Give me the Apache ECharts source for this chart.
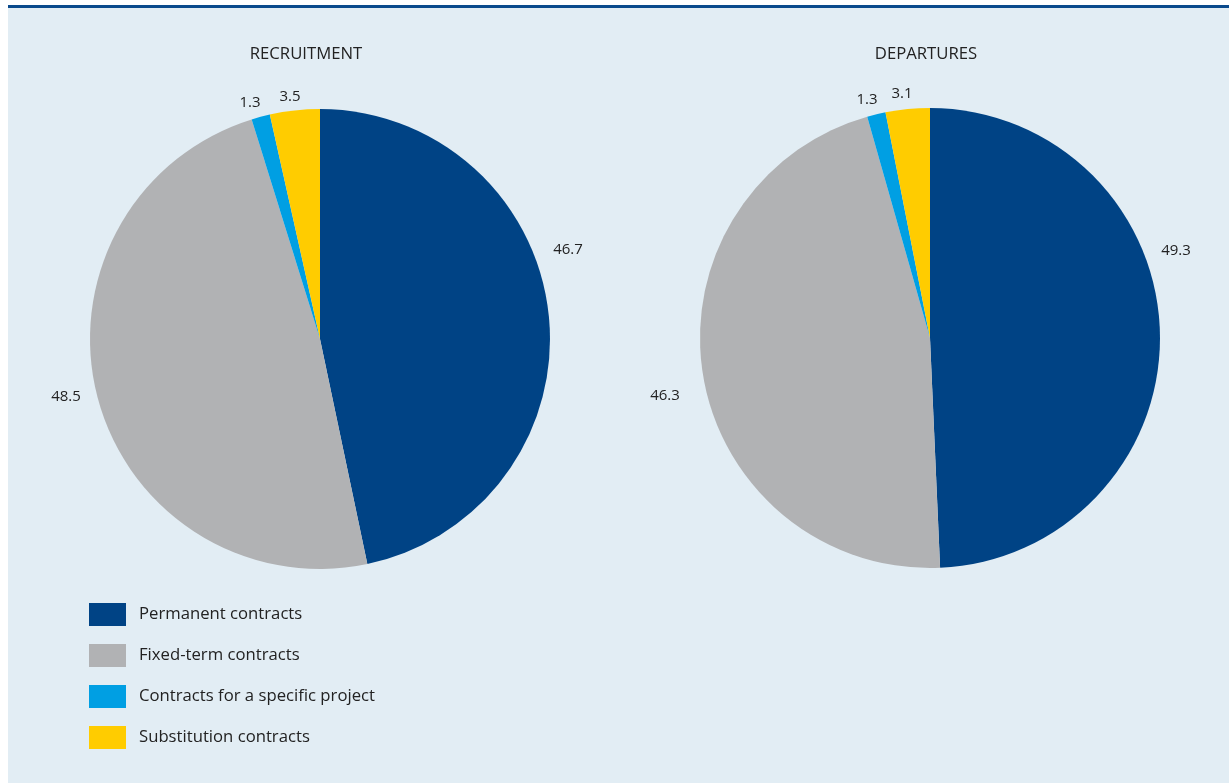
<!DOCTYPE html>
<html>
<head>
<meta charset="utf-8">
<script src="https://cdn.jsdelivr.net/npm/echarts@6/dist/echarts.min.js"></script>
<style>
  html, body { margin: 0; padding: 0; background: #ffffff; }
  #panel {
    position: absolute; left: 8px; top: 5px; right: 0; bottom: 0;
    background: #e2edf4; border-top: 3px solid #0a4a8c;
  }
  #chart { position: absolute; left: 0; top: 0; width: 1229px; height: 783px; }
</style>
</head>
<body>
<div id="panel"></div>
<div id="chart"></div>
<script>
// Contract types (share of total, %)
const categories = [
  'Permanent contracts',
  'Fixed-term contracts',
  'Contracts for a specific project',
  'Substitution contracts'
];
const recruitment = [46.7, 48.5, 1.3, 3.5];
const departures = [49.3, 46.3, 1.3, 3.1];
const panelTitles = ['RECRUITMENT', 'DEPARTURES'];

const colors = ['#004385', '#b1b2b4', '#009fe3', '#ffcc00'];
const FONT = 'Open Sans';

// Pie geometry (pixels) and label offsets from each pie centre
const pies = [
  { center: [320, 339], labelOffsets: [[248, -89], [-254, 58], [-70, -236], [-30, -242]] },
  { center: [930, 338], labelOffsets: [[246, -87], [-265, 58], [-63, -238], [-28, -244]] }
];
const radius = 230;

function pieSeries(values, idx) {
  const p = pies[idx];
  return {
    type: 'pie',
    center: p.center,
    radius: radius,
    startAngle: 90,
    clockwise: true,
    animation: false,
    silent: true,
    itemStyle: { borderWidth: 0 },
    label: {
      show: true,
      position: 'outside',
      overflow: 'none',
      formatter: (d) => d.value.toFixed(1),
      fontFamily: FONT,
      fontSize: 15,
      color: '#222222'
    },
    labelLine: { show: false },
    labelLayout: (params) => {
      const off = p.labelOffsets[params.dataIndex];
      return {
        x: p.center[0] + off[0],
        y: p.center[1] + off[1],
        align: 'center',
        verticalAlign: 'middle'
      };
    },
    data: categories.map((name, i) => ({ name: name, value: values[i] }))
  };
}

const titleStyle = { fontFamily: FONT, fontSize: 16.7, fontWeight: 'normal', color: '#222222' };

const chart = echarts.init(document.getElementById('chart'), null, { renderer: 'canvas' });
chart.setOption({
  backgroundColor: 'transparent',
  color: colors,
  title: [
    { text: panelTitles[0], left: 306, top: 46, textAlign: 'center', padding: 0, textStyle: titleStyle },
    { text: panelTitles[1], left: 926, top: 46, textAlign: 'center', padding: 0, textStyle: titleStyle }
  ],
  legend: {
    orient: 'vertical',
    left: 89,
    top: 603,
    padding: 0,
    itemWidth: 37,
    itemHeight: 23,
    itemGap: 18,
    icon: 'rect',
    selectedMode: false,
    data: categories,
    textStyle: { fontFamily: FONT, fontSize: 16.7, color: '#222222', padding: [0, 0, 0, 8] }
  },
  series: [pieSeries(recruitment, 0), pieSeries(departures, 1)]
});
</script>
</body>
</html>
